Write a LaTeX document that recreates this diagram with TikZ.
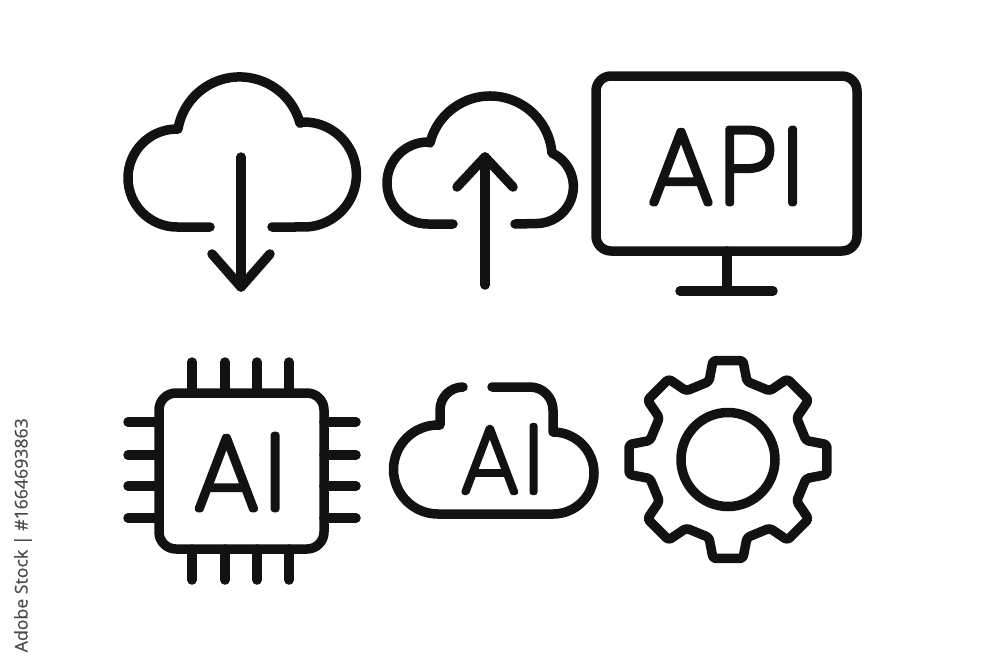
\documentclass[tikz,border=0pt]{standalone}
\usepackage{fontspec}
\setmainfont{Open Sans}
\newfontfamily\iconfont[FakeBold=6.5,LetterSpace=7]{Poppins Thin}
\newfontfamily\stockfont[FakeBold=0.5]{Open Sans}
\tikzset{
	iconline/.style={draw=black!93,line width=9.5pt,line cap=round,line join=round},
	iconlabel/.style={inner sep=0pt,text=black!93,line cap=round,line join=round}
}
\begin{document}
\begin{tikzpicture}[x=1pt,y=1pt,yscale=-1]
		\useasboundingbox (0,0) rectangle (1000,667);

		% download
		\draw[iconline] (210,227) -- (177,227) arc[start angle=90,end angle=268,radius=49] -- (178,129)
			arc[start angle=189.6,end angle=345,radius=62.5] -- (303,122) arc[start angle=-91,end angle=90,radius=52.5] -- (272,227);
		\draw[iconline] (241,157) -- (241,287);
		\draw[iconline] (212,254) -- (241,287) -- (270,254);

		% upload
		\draw[iconline] (453,224) -- (428,224) arc[start angle=90,end angle=270,radius=41] -- (430,143)
			arc[start angle=194,end angle=355,radius=62] -- (552,153) arc[start angle=-65,end angle=90,radius=37] -- (515,224);
		\draw[iconline] (485,157) -- (485,285);
		\draw[iconline] (457,187) -- (485,157) -- (513,187);

		% monitor
		\draw[iconline,rounded corners=15pt] (596,76) rectangle (857,251);
		\draw[iconline] (727,251) -- (727,291);
		\draw[iconline] (680,291) -- (773,291);
		\node[iconlabel,font=\iconfont\fontsize{105}{105}\selectfont] (apilabel) at (726,166) {API};

		% chip
		\draw[iconline,rounded corners=17pt] (159,393) rectangle (324,549);
		\foreach \px in {192,225,257,289} {
			\draw[iconline] (\px,362) -- (\px,393);
			\draw[iconline] (\px,549) -- (\px,580);
		}
		\foreach \py in {422,455,486,518} {
			\draw[iconline] (128,\py) -- (159,\py);
			\draw[iconline] (324,\py) -- (356,\py);
		}
		\node[iconlabel,font=\iconfont\fontsize{105}{105}\selectfont] (chiplabel) at (240,472) {AI};

		% AI cloud
		\draw[iconline] (492,387) -- (530,387) arc[start angle=-90,end angle=0,radius=23] -- (553,432)
			arc[start angle=-90,end angle=90,radius=41] -- (438,514) arc[start angle=90,end angle=270,radius=44.5] -- (440,425)
			-- (440,410) arc[start angle=180,end angle=270,radius=23];
		\node[iconlabel,font=\iconfont\fontsize{94}{94}\selectfont] (cloudlabel) at (502,459) {AI};

		% gear
		\begin{scope}[shift={(728,459.5)}]
			\draw[iconline,rounded corners=3pt] (22.5:79.4) \foreach \a in {45,90,...,360} {
				-- ({\a-13.7}:80.3) -- ({\a-8.6}:100.1) -- ({\a+8.6}:100.1) -- ({\a+13.7}:80.3)
			} -- cycle;
			\draw[iconline] (0,0) circle[radius=47];
		\end{scope}

		\node[rotate=90,anchor=east,inner sep=0pt,text=black!70,font=\stockfont\fontsize{17.7}{17.7}\selectfont] (stocklabel) at (23,418) {Adobe Stock | \#1664693863};
	\end{tikzpicture}
\end{document}
